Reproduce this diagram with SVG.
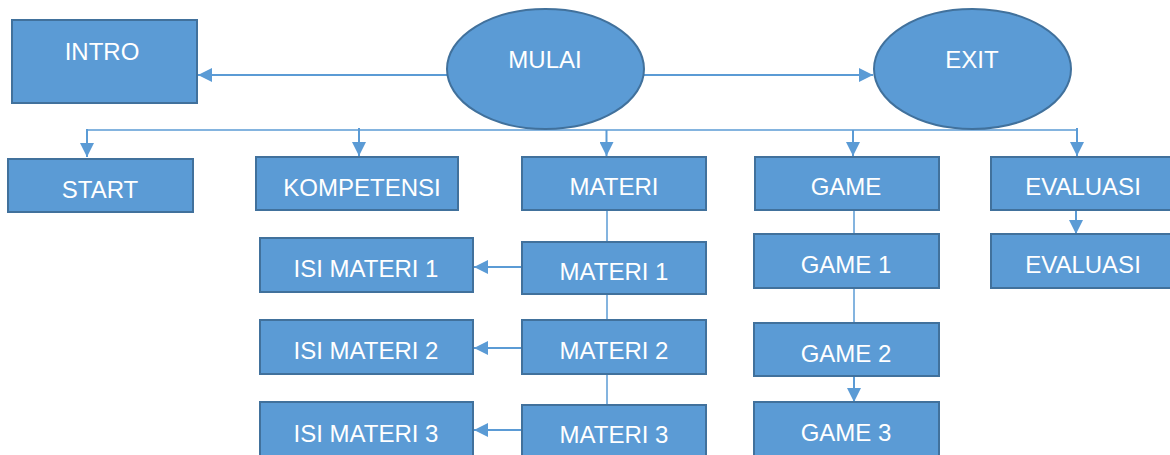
<svg xmlns="http://www.w3.org/2000/svg" width="1170" height="455" viewBox="0 0 1170 455">
<style>
.n{fill:#5B9BD5;stroke:#41719C;stroke-width:2}
.t{fill:#fff;font-family:"Liberation Sans",Arial,sans-serif;font-size:24px;text-anchor:middle}
.c{stroke:#5B9BD5;stroke-width:2;fill:none}
.th{stroke:#5B9BD5;stroke-width:1.5;fill:none}
</style>
<defs>
<marker id="a" markerUnits="userSpaceOnUse" markerWidth="14" markerHeight="14" refX="12" refY="6" orient="auto" viewBox="0 0 12 12">
<path d="M0,0 L12,6 L0,12 z" fill="#5B9BD5"/>
</marker>
</defs>
<rect width="1170" height="455" fill="#fff"/>
<g id="connectors">
<line class="c" x1="447" y1="75" x2="198" y2="75" marker-end="url(#a)"/>
<line class="c" x1="644" y1="75" x2="873" y2="75" marker-end="url(#a)"/>
<line class="th" x1="87" y1="130" x2="1077" y2="130"/>
<line class="c" x1="87" y1="129" x2="87" y2="157" marker-end="url(#a)"/>
<line class="c" x1="359" y1="128" x2="359" y2="156" marker-end="url(#a)"/>
<line class="c" x1="606.5" y1="130" x2="606.5" y2="156" marker-end="url(#a)"/>
<line class="c" x1="853" y1="130" x2="853" y2="156" marker-end="url(#a)"/>
<line class="c" x1="1077" y1="128" x2="1077" y2="156" marker-end="url(#a)"/>
<line class="th" x1="607" y1="210" x2="607" y2="242"/>
<line class="th" x1="607" y1="294" x2="607" y2="320"/>
<line class="th" x1="607" y1="374" x2="607" y2="405"/>
<line class="c" x1="522" y1="267" x2="474" y2="267" marker-end="url(#a)"/>
<line class="c" x1="522" y1="348" x2="474" y2="348" marker-end="url(#a)"/>
<line class="c" x1="522" y1="430" x2="474" y2="430" marker-end="url(#a)"/>
<line class="th" x1="854" y1="210" x2="854" y2="234"/>
<line class="th" x1="854" y1="288" x2="854" y2="323"/>
<line class="c" x1="854" y1="376" x2="854" y2="402" marker-end="url(#a)"/>
<line class="c" x1="1076" y1="210" x2="1076" y2="234" marker-end="url(#a)"/>
</g>
<g id="intro"><rect class="n" x="12" y="20" width="185" height="83"/><text class="t" x="102" y="60">INTRO</text></g>
<g id="mulai"><ellipse class="n" cx="545.5" cy="69" rx="98.5" ry="60"/><text class="t" x="545" y="68">MULAI</text></g>
<g id="exit"><ellipse class="n" cx="972.5" cy="69" rx="98.5" ry="60"/><text class="t" x="972" y="68">EXIT</text></g>
<g id="start"><rect class="n" x="8" y="159" width="185" height="53"/><text class="t" x="100" y="198">START</text></g>
<g id="kompetensi"><rect class="n" x="256" y="157" width="202" height="53"/><text class="t" x="362" y="196">KOMPETENSI</text></g>
<g id="materi"><rect class="n" x="522" y="157" width="184" height="53"/><text class="t" x="614" y="195">MATERI</text></g>
<g id="game"><rect class="n" x="755" y="157" width="184" height="53"/><text class="t" x="846" y="195">GAME</text></g>
<g id="evaluasi"><rect class="n" x="991" y="157" width="182" height="53"/><text class="t" x="1083" y="195">EVALUASI</text></g>
<g id="isi1"><rect class="n" x="260" y="238" width="213" height="54"/><text class="t" x="366" y="277">ISI MATERI 1</text></g>
<g id="materi1"><rect class="n" x="522" y="242" width="184" height="52"/><text class="t" x="614" y="280">MATERI 1</text></g>
<g id="isi2"><rect class="n" x="260" y="320" width="213" height="54"/><text class="t" x="366" y="359">ISI MATERI 2</text></g>
<g id="materi2"><rect class="n" x="522" y="320" width="184" height="54"/><text class="t" x="614" y="359">MATERI 2</text></g>
<g id="isi3"><rect class="n" x="260" y="402" width="213" height="56"/><text class="t" x="366" y="442">ISI MATERI 3</text></g>
<g id="materi3"><rect class="n" x="522" y="405" width="184" height="54"/><text class="t" x="614" y="443">MATERI 3</text></g>
<g id="game1"><rect class="n" x="754" y="234" width="185" height="54"/><text class="t" x="846" y="273">GAME 1</text></g>
<g id="game2"><rect class="n" x="754" y="323" width="185" height="53"/><text class="t" x="846" y="362">GAME 2</text></g>
<g id="game3"><rect class="n" x="754" y="402" width="185" height="56"/><text class="t" x="846" y="441">GAME 3</text></g>
<g id="evaluasi2"><rect class="n" x="991" y="234" width="182" height="54"/><text class="t" x="1083" y="273">EVALUASI</text></g>
</svg>
